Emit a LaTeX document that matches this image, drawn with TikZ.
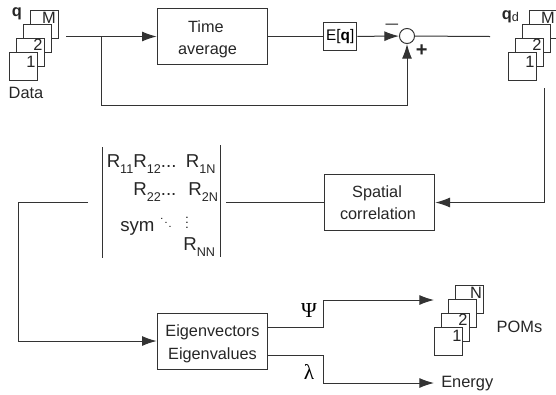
\documentclass[tikz,border=0pt]{standalone}
\usepackage{fontspec}
\setmainfont{Liberation Sans}
\newfontfamily\greekfont{Liberation Serif}
\usepackage{tikz}
\usetikzlibrary{arrows.meta}
\newcommand{\rsub}[1]{\raisebox{-4.5pt}{\fontsize{9.5}{10}\selectfont #1}}

\begin{document}
\begin{tikzpicture}[
  x=0.75pt, y=-0.75pt,
  box/.style={rectangle, draw=black!80, line width=0.75pt, minimum width=83pt, minimum height=42pt, align=center, text=black!85, font=\fontsize{12.2}{16.8}\selectfont},
  sheet/.style={rectangle, draw=black!80, fill=white, line width=0.75pt, minimum size=21pt, inner sep=0pt},
  word/.style={font=\fontsize{12.3}{14}\selectfont, text=black!85, inner sep=0pt, align=center},
  entry/.style={font=\fontsize{14}{15}\selectfont, text=black!85, inner sep=0pt, anchor=base west},
  greek/.style={font=\greekfont\fontsize{16}{16}\selectfont, inner sep=0pt},
  wire/.style={draw=black!80, line width=0.75pt},
  arrow/.style={wire, -{Latex[length=11pt,width=7.5pt]}}
]
  \useasboundingbox (0,0) rectangle (556,394);

  % data stack
  \node[sheet] (dm) at (44,24.5) {};
  \node[sheet] (dc) at (37,38.5) {};
  \node[sheet] (db) at (30,52) {};
  \node[sheet] (da) at (23.5,66) {};
  \node[word] (dmt) at (49,18) {M};
  \node[word] (dbt) at (38,45) {2};
  \node[word] (dat) at (31,62) {1};
  \node[word, font=\fontsize{12.3}{14}\selectfont\bfseries] (q) at (17,14) {q};
  \node[word] (data) at (26,93) {Data};

  % top row
  \coordinate (in) at (66,36.5);
  \coordinate (split) at (101.5,36.5);
  \coordinate (back) at (407,105.5);
  \node[box] (time) at (212.5,36.5) {\rule{0pt}{13pt}Time\hspace*{10pt}\\average\hspace*{7.5pt}};
  \node[rectangle, draw=black!80, line width=0.75pt, minimum width=25pt, minimum height=21pt, inner sep=0pt, font=\fontsize{11.5}{13}\selectfont] (mean) at (340.2,36.5) {E[\textbf{q}]};
  \node[circle, draw=black!80, fill=white, line width=0.75pt, minimum size=11.3pt, inner sep=0pt] (sum) at (407,36) {};
  \coordinate (out) at (490,36.5);
  \node[word, text=black!60, font=\fontsize{17}{17}\selectfont] (minus) at (392,27) {--};
  \node[word, font=\fontsize{15}{15}\selectfont\bfseries] (plus) at (421.7,51) {+};

  \draw[arrow] (in) -- (time);
  \draw[wire] (time) -- (mean);
  \draw[arrow] (mean) -- (sum);
  \draw[wire] (sum) -- (out);
  \draw[wire] (split) |- (back);
  \draw[arrow] (back) -- (sum);

  % fluctuation stack
  \node[sheet] (fm) at (543,24.5) {};
  \node[sheet] (fc) at (536,38.5) {};
  \node[sheet] (fb) at (529,52) {};
  \node[sheet] (fa) at (522.5,66) {};
  \node[word] (fmt) at (548,18) {M};
  \node[word] (fbt) at (537,45) {2};
  \node[word] (fat) at (530,62) {1};
  \node[word] (qd) at (510.5,17) {\textbf{q}\raisebox{-1pt}{\fontsize{9.5}{10}\selectfont d}};

  % middle row
  \coordinate (drop) at (544,88);
  \node[box] (spatial) at (379.5,202.5) {Spatial\hspace*{3.7pt}\\correlation\hspace*{2.2pt}};
  \coordinate (right) at (226,202.5);
  \coordinate (left) at (88,202.5);
  \coordinate (low) at (18,341);
  \draw[arrow] (drop) |- (spatial);
  \draw[wire] (spatial) -- (right);

  % matrix
  \coordinate (la) at (102,147);
  \coordinate (lb) at (102,258);
  \coordinate (ra) at (220,145);
  \coordinate (rb) at (220,257);
  \draw[wire] (la) -- (lb);
  \draw[wire] (ra) -- (rb);
  \node[entry] (r1) at (106.5,167) {R\rsub{11}R\rsub{12}...};
  \node[entry] (r1n) at (185.5,167) {R\rsub{1N}};
  \node[entry] (r2) at (133,195.5) {R\rsub{22}...};
  \node[entry] (r2n) at (188,195.5) {R\rsub{2N}};
  \node[entry] (sym) at (120,231) {sym};
  \node[inner sep=0pt, font=\footnotesize] (dd) at (166,219) {$\ddots$};
  \node[inner sep=0pt, font=\small] (vd) at (187,219) {$\vdots$};
  \node[entry] (rn) at (183,250) {R\rsub{NN}};

  % bottom row
  \node[box] (eigen) at (212.5,341) {\rule{0pt}{13pt}Eigenvectors\\Eigenvalues};
  \coordinate (psia) at (323.5,327);
  \coordinate (psib) at (434,300);
  \coordinate (lama) at (323.5,355);
  \coordinate (lamb) at (434,383);
  \draw[wire] (left) -| (low);
  \draw[arrow] (low) -- (eigen);
  \draw[arrow] (eigen.east |- psia) -| (323.5,300) -- (psib);
  \draw[arrow] (eigen.east |- lama) -| (323.5,383) -- (lamb);
  \node[greek] (psi) at (309,311) {Ψ};
  \node[greek] (lambda) at (309,372) {λ};

  % mode stack
  \node[sheet] (pn) at (469,299.5) {};
  \node[sheet] (pc) at (462,313.5) {};
  \node[sheet] (pb) at (455.5,327) {};
  \node[sheet] (pa) at (448.5,341) {};
  \node[word] (pnt) at (476,293) {N};
  \node[word] (pbt) at (463,320) {2};
  \node[word] (pat) at (457,336) {1};
  \node[word] (poms) at (519.5,327) {POMs};
  \node[word, anchor=west] (energy) at (441,384) {Energy};
\end{tikzpicture}
\end{document}
